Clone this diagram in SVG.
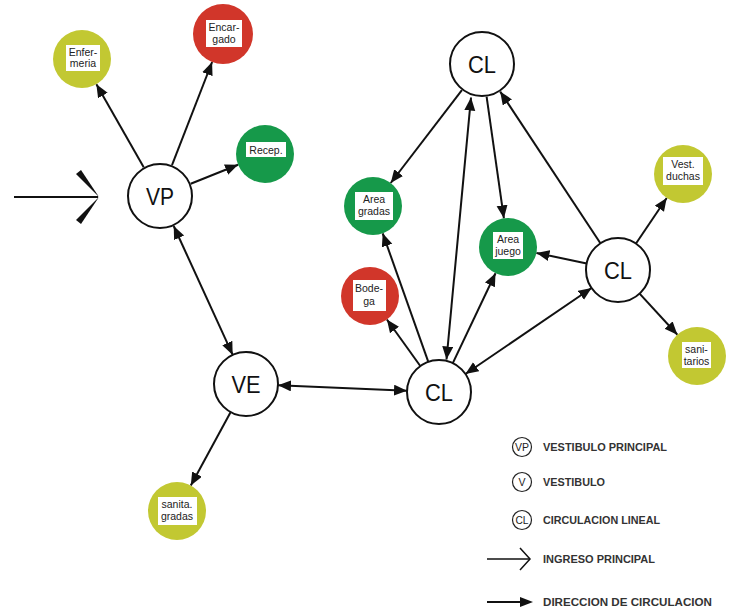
<svg xmlns="http://www.w3.org/2000/svg" width="732" height="612" viewBox="0 0 732 612">
<style>
.hub{fill:#fff;stroke:#111;stroke-width:2}
.hubt{font-family:"Liberation Sans",Arial,sans-serif;font-size:24px;fill:#111;text-anchor:middle}
.yel{fill:#c2c832}
.red{fill:#d1362a}
.grn{fill:#16994a}
.box{fill:#fff}
.lbl{font-family:"Liberation Sans",Arial,sans-serif;font-size:10.5px;fill:#222;text-anchor:middle}
.con{stroke:#111;stroke-width:2;fill:none}
.leg{font-family:"Liberation Sans",Arial,sans-serif;font-size:11px;font-weight:bold;fill:#333}
.legc{fill:#fff;stroke:#222;stroke-width:1.2}
.legt{font-family:"Liberation Sans",Arial,sans-serif;font-size:10.5px;fill:#222;text-anchor:middle}
</style>
<defs>
<marker id="ah" markerUnits="userSpaceOnUse" markerWidth="14" markerHeight="12" refX="13" refY="5.5" orient="auto-start-reverse">
<path d="M0,0 L13,5.5 L0,11 z" fill="#111"/>
</marker>
</defs>

<g id="connectors">
<line class="con" x1="143.7" y1="167.3" x2="96.4" y2="84.2" marker-end="url(#ah)"/>
<line class="con" x1="172" y1="165.2" x2="212.1" y2="62" marker-end="url(#ah)"/>
<line class="con" x1="190.7" y1="183.7" x2="238.1" y2="164.8" marker-end="url(#ah)"/>
<line class="con" x1="173.7" y1="226" x2="232.7" y2="354.9" marker-start="url(#ah)" marker-end="url(#ah)"/>
<line class="con" x1="278" y1="385.3" x2="407" y2="390.7" marker-start="url(#ah)" marker-end="url(#ah)"/>
<line class="con" x1="230.7" y1="412.1" x2="190.8" y2="485.5" marker-end="url(#ah)"/>
<line class="con" x1="420.3" y1="366" x2="386.9" y2="319.5" marker-end="url(#ah)"/>
<line class="con" x1="428.3" y1="361.9" x2="382.7" y2="233.3" marker-end="url(#ah)"/>
<line class="con" x1="446.5" y1="359.5" x2="471" y2="97.5" marker-start="url(#ah)" marker-end="url(#ah)"/>
<line class="con" x1="461.9" y1="90.2" x2="390.7" y2="183" marker-end="url(#ah)"/>
<line class="con" x1="486.6" y1="96.7" x2="503.9" y2="218.3" marker-end="url(#ah)"/>
<line class="con" x1="452.8" y1="363.1" x2="495.5" y2="273.2" marker-end="url(#ah)"/>
<line class="con" x1="600.4" y1="243.3" x2="500.2" y2="91.6" marker-end="url(#ah)"/>
<line class="con" x1="586.7" y1="263.4" x2="536.4" y2="252.9" marker-end="url(#ah)"/>
<line class="con" x1="636" y1="243.5" x2="666.7" y2="198" marker-end="url(#ah)"/>
<line class="con" x1="639.6" y1="293.6" x2="677.4" y2="334.7" marker-end="url(#ah)"/>
<line class="con" x1="591.6" y1="288" x2="465.4" y2="374" marker-start="url(#ah)" marker-end="url(#ah)"/>
</g>

<g id="ingreso">
<line x1="14" y1="197" x2="98" y2="197" stroke="#111" stroke-width="2"/>
<polygon points="76,174 81,170 99,197" fill="#111"/>
<polygon points="76,220 81,224 99,197" fill="#111"/>
</g>

<g id="VP"><circle class="hub" cx="160" cy="196" r="32"/><text class="hubt" x="160" y="205" textLength="28" lengthAdjust="spacingAndGlyphs">VP</text></g>
<g id="VE"><circle class="hub" cx="246" cy="384" r="32"/><text class="hubt" x="246" y="393" textLength="29" lengthAdjust="spacingAndGlyphs">VE</text></g>
<g id="CL_bottom"><circle class="hub" cx="439" cy="392" r="32"/><text class="hubt" x="439" y="401" textLength="28" lengthAdjust="spacingAndGlyphs">CL</text></g>
<g id="CL_top"><circle class="hub" cx="482" cy="64" r="32"/><text class="hubt" x="482" y="73" textLength="28" lengthAdjust="spacingAndGlyphs">CL</text></g>
<g id="CL_right"><circle class="hub" cx="618" cy="270" r="32"/><text class="hubt" x="618" y="279" textLength="28" lengthAdjust="spacingAndGlyphs">CL</text></g>

<g id="enfermeria"><circle class="yel" cx="82" cy="59" r="29"/><rect class="box" x="66" y="45" width="34" height="26"/><text class="lbl" x="83" y="56">Enfer-</text><text class="lbl" x="83" y="67">meria</text></g>
<g id="encargado"><circle class="red" cx="223" cy="34" r="30"/><rect class="box" x="206" y="20" width="36" height="27"/><text class="lbl" x="224" y="31">Encar-</text><text class="lbl" x="224" y="43">gado</text></g>
<g id="recep"><circle class="grn" cx="265" cy="154" r="29"/><rect class="box" x="246" y="142" width="40" height="15"/><text class="lbl" x="266" y="153.5">Recep.</text></g>
<g id="area_gradas"><circle class="grn" cx="373" cy="206" r="29"/><rect class="box" x="355" y="192" width="38" height="28"/><text class="lbl" x="374" y="203">Area</text><text class="lbl" x="374" y="215">gradas</text></g>
<g id="area_juego"><circle class="grn" cx="508" cy="247" r="29"/><rect class="box" x="493" y="232" width="30" height="27"/><text class="lbl" x="508" y="243">Area</text><text class="lbl" x="508" y="255">juego</text></g>
<g id="bodega"><circle class="red" cx="370" cy="296" r="29"/><rect class="box" x="353" y="280" width="33" height="31"/><text class="lbl" x="369" y="292">Bode-</text><text class="lbl" x="369" y="305">ga</text></g>
<g id="vest_duchas"><circle class="yel" cx="683" cy="174" r="29"/><rect class="box" x="663" y="157" width="40" height="28"/><text class="lbl" x="683" y="168">Vest.</text><text class="lbl" x="683" y="180">duchas</text></g>
<g id="sanitarios"><circle class="yel" cx="697" cy="356" r="29"/><rect class="box" x="682" y="342" width="29" height="26"/><text class="lbl" x="696.5" y="353">sani-</text><text class="lbl" x="696.5" y="365">tarios</text></g>
<g id="sanita_gradas"><circle class="yel" cx="177" cy="511" r="29"/><rect class="box" x="158" y="497" width="39" height="28"/><text class="lbl" x="177" y="508">sanita.</text><text class="lbl" x="177" y="520">gradas</text></g>

<g id="legend">
<circle class="legc" cx="522" cy="447" r="9.5"/><text class="legt" x="522" y="451" textLength="14" lengthAdjust="spacingAndGlyphs">VP</text>
<text class="leg" x="543" y="451" textLength="124" lengthAdjust="spacingAndGlyphs">VESTIBULO PRINCIPAL</text>
<circle class="legc" cx="522" cy="482" r="9.5"/><text class="legt" x="522" y="486">V</text>
<text class="leg" x="543" y="486" textLength="62" lengthAdjust="spacingAndGlyphs">VESTIBULO</text>
<circle class="legc" cx="522" cy="520" r="9.5"/><text class="legt" x="522" y="524" textLength="13" lengthAdjust="spacingAndGlyphs">CL</text>
<text class="leg" x="543" y="524" textLength="117" lengthAdjust="spacingAndGlyphs">CIRCULACION LINEAL</text>
<line x1="487" y1="559" x2="529" y2="559" stroke="#111" stroke-width="1.5"/>
<polyline points="520,548 530,559 520,570" fill="none" stroke="#111" stroke-width="1.5"/>
<text class="leg" x="543" y="563" textLength="112" lengthAdjust="spacingAndGlyphs">INGRESO PRINCIPAL</text>
<line x1="487" y1="602" x2="522" y2="602" stroke="#111" stroke-width="2"/>
<path d="M520,597 L533,602 L520,607 z" fill="#111"/>
<text class="leg" x="543" y="606" textLength="169" lengthAdjust="spacingAndGlyphs">DIRECCION DE CIRCULACION</text>
</g>
</svg>
